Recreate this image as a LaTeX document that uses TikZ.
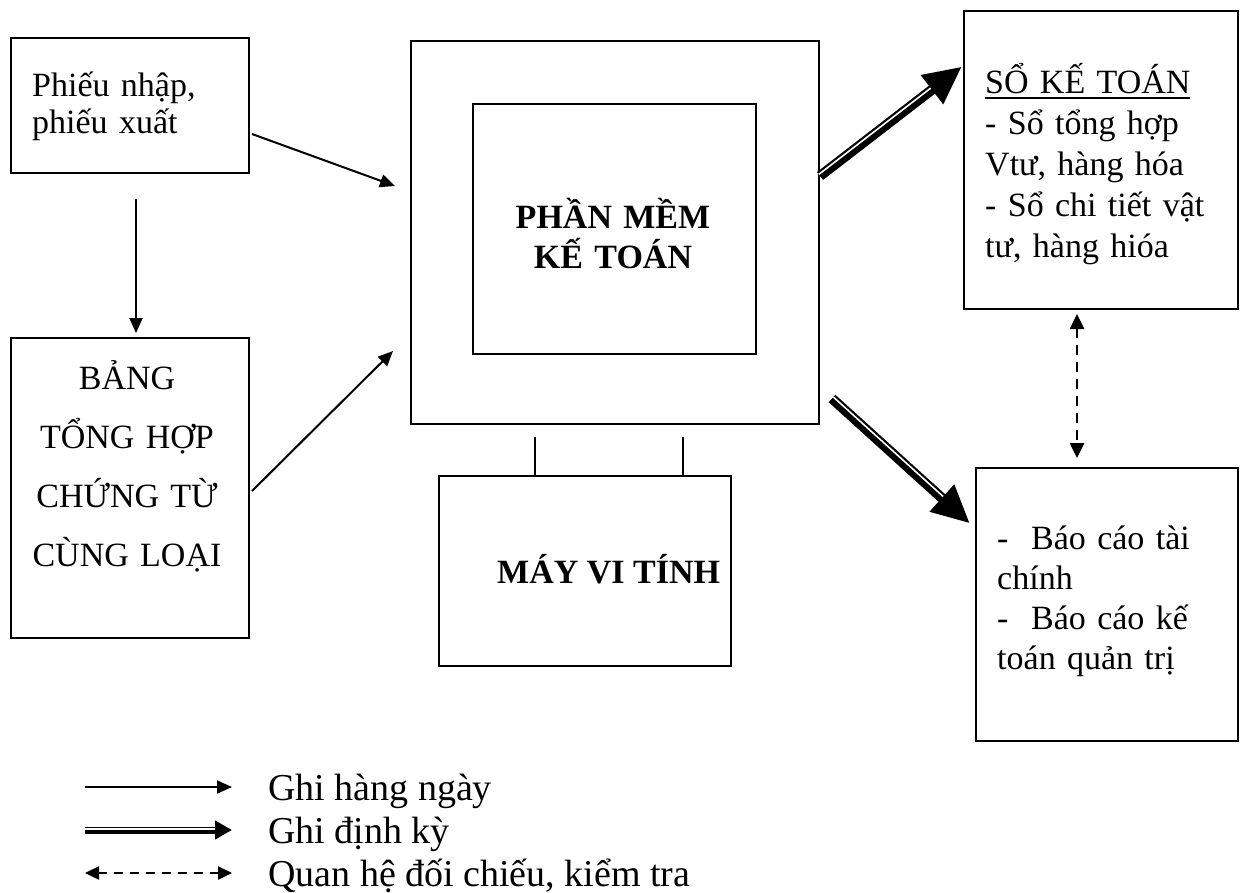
\documentclass[tikz,border=0pt]{standalone}
\usepackage{fontspec}
\setmainfont{Liberation Serif}
\usetikzlibrary{arrows.meta,calc}

% underline drawn as a rule of fixed depth and thickness
\newcommand{\ulinetext}[1]{\setbox0\hbox{#1}\rlap{\rule[-6pt]{\wd0}{2pt}}\box0}

\begin{document}
\begin{tikzpicture}[x=1pt,y=-1pt,
  box/.style={draw, line width=2pt, inner sep=0pt, anchor=north west},
  txt/.style={inner sep=0pt, font=\fontsize{34}{40}\selectfont},
  legendtxt/.style={inner sep=0pt, font=\fontsize{38}{44}\selectfont, anchor=base west},
  daily/.style={line width=2pt, -{Triangle[length=15pt,width=13pt]}},
  check/.style={line width=2.6pt, dash pattern=on 10pt off 7pt,
                {Triangle[length=15pt,width=14pt]}-{Triangle[length=15pt,width=14pt]}},
  periodbody/.style={line width=#1},
  periodgap/.style={white, line width=1.6pt}
]
\useasboundingbox (0,0) rectangle (1248,892);

% ---- boxes ----
\node[box, minimum width=238, minimum height=135] (phieu) at (10,37) {};
\node[box, minimum width=238, minimum height=300] (bang)  at (10,337) {};
\node[box, minimum width=408, minimum height=383] (pm)    at (410,40) {};
\node[box, minimum width=283, minimum height=250] (pmin)  at (472,103) {};
\node[box, minimum width=292, minimum height=190] (may)   at (438,475) {};
\node[box, minimum width=274, minimum height=298] (so)    at (963,10) {};
\node[box, minimum width=262, minimum height=273] (bc)    at (975,467) {};

% ---- texts ----
\node[txt, font=\fontsize{34}{37}\selectfont, text width=215, align=left, anchor=base west]
  (phieuT) at (32,96) {Phiếu nhập,\\phiếu xuất};
\node[txt, font=\fontsize{34}{59}\selectfont, text width=232, align=center, anchor=base]
  (bangT) at (127,389) {BẢNG\\TỔNG HỢP\\CHỨNG TỪ\\CÙNG LOẠI};
\node[txt, font=\fontsize{34}{40}\selectfont\bfseries, text width=270, align=center, anchor=base]
  (pmT) at (613,228) {PHẦN MỀM\\KẾ TOÁN};
\node[txt, font=\fontsize{34}{40}\selectfont\bfseries, anchor=base west]
  (mayT) at (497,583) {MÁY VI TÍNH};
\node[txt, font=\fontsize{34}{41}\selectfont, text width=245, align=left, anchor=base west]
  (soT) at (985,93) {\ulinetext{SỔ KẾ TOÁN}\\- Sổ tổng hợp\\Vtư, hàng hóa\\- Sổ chi tiết vật\\tư, hàng hióa};
\node[txt, text width=232, align=left, anchor=base west]
  (bcT) at (997,549) {-\ \ Báo cáo tài\\chính\\-\ \ Báo cáo kế\\toán quản trị};

% ---- daily flows ----
\draw[daily] ($(phieu.east)+(2,28.5)$) -- ($(pm.west)+(-15,-46.5)$);
\draw[daily] ($(phieu.south)+(6,25)$) -- ($(bang.north)+(6,-4)$);
\draw[daily] ($(bang.east)+(2,3)$) -- ($(pm.west)+(-17,118.5)$);

% ---- links software box to computer ----
\draw[line width=2pt] ($(pm.south)+(-80,12)$) -- ($(may.north)+(-50,0)$);
\draw[line width=2pt] ($(pm.south)+(68,12)$) -- ($(may.north)+(98,0)$);

% ---- periodic flows (thick shaft with a thin light stripe) ----
\coordinate (u1) at ($(pm.east)+(0,-56.5)$);
\coordinate (u2) at ($(so.west)+(-1,-93.5)$);
\coordinate (v1) at ($(pm.east)+(12,166)$);
\coordinate (v2) at ($(bc.west)+(-5,-81)$);
\draw[periodbody=10pt, -{Triangle[length=38pt,width=34pt]}] (u1) -- (u2);
\draw[periodgap, shorten >=38pt] ($(u1)!2pt!90:(u2)$) -- ($(u2)!2pt!-90:(u1)$);
\draw[periodbody=10pt, -{Triangle[length=38pt,width=34pt]}] (v1) -- (v2);
\draw[periodgap, shorten >=38pt] ($(v1)!2pt!90:(v2)$) -- ($(v2)!2pt!-90:(v1)$);

% ---- cross-check between ledgers and reports ----
\draw[check] ($(so.south)+(-24,4)$) -- ($(bc.north)+(-30,-9)$);

% ---- legend ----
\coordinate (g1a) at (85,787);  \coordinate (g1b) at (232,787);
\coordinate (g2a) at (85,830);  \coordinate (g2b) at (232,830);
\coordinate (g3a) at (85,873);  \coordinate (g3b) at (232,873);
\draw[daily] (g1a) -- (g1b);
\draw[periodbody=7pt, -{Triangle[length=17pt,width=18pt]}] (g2a) -- (g2b);
\draw[periodgap, line width=1.4pt, shorten >=17pt] ($(g2a)!1.2pt!90:(g2b)$) -- ($(g2b)!1.2pt!-90:(g2a)$);
\draw[line width=2.4pt, dash pattern=on 9pt off 7pt,
      {Triangle[length=14pt,width=13pt]}-{Triangle[length=14pt,width=13pt]}] (g3a) -- (g3b);
\node[legendtxt] (l1) at (268,800) {Ghi hàng ngày};
\node[legendtxt] (l2) at (268,843) {Ghi định kỳ};
\node[legendtxt] (l3) at (268,886) {Quan hệ đối chiếu, kiểm tra};
\end{tikzpicture}
\end{document}
